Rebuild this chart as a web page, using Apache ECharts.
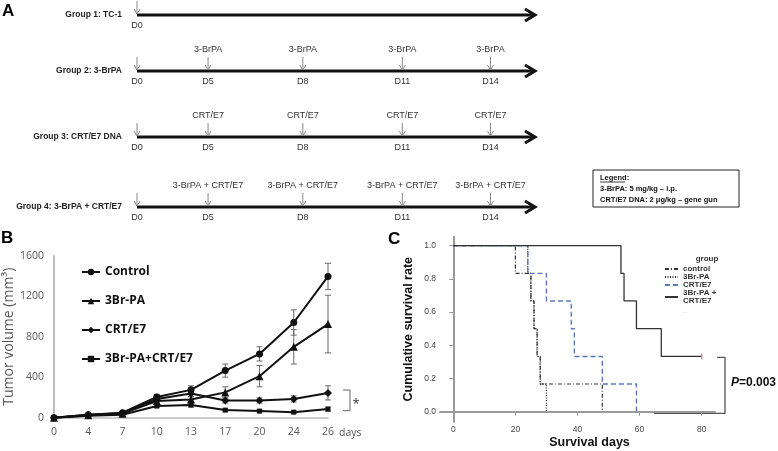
<!DOCTYPE html>
<html><head><meta charset="utf-8">
<script src="https://cdn.jsdelivr.net/npm/echarts@6/dist/echarts.min.js"></script>
<style>html,body{margin:0;padding:0;background:#fff}#c{width:778px;height:451px}</style>
</head><body><div id="c"></div>
<script>
// ---------- Panel A: treatment schedule ----------
const groupNames = ['Group 1: TC-1', 'Group 2: 3-BrPA', 'Group 3: CRT/E7 DNA', 'Group 4: 3-BrPA + CRT/E7'];
const doseDays = ['D0', 'D5', 'D8', 'D11', 'D14'];
const dosePos = [0, 0.75, 1.75, 2.8, 3.73];      // schematic positions on the timeline
const timelineEnd = 4.2;
const groupDoseCount = [1, 5, 5, 5];
const treatmentLabels = ['', '3-BrPA', 'CRT/E7', '3-BrPA + CRT/E7'];
const legendBoxLines = ['Legend:', '3-BrPA: 5 mg/kg \u2013 i.p.', 'CRT/E7 DNA: 2 \u03bcg/kg \u2013 gene gun'];

// ---------- Panel B: tumor volume ----------
const daysB = ['0', '4', '7', '10', '13', '17', '20', '24', '26'];
const bNames = ['Control', '3Br-PA', 'CRT/E7', '3Br-PA+CRT/E7'];
const controlVol = [0, 30, 50, 205, 275, 465, 630, 940, 1395];
const controlErr = [0, 8, 10, 25, 40, 65, 70, 125, 130];
const brpaVol = [0, 25, 40, 165, 180, 250, 410, 700, 925];
const brpaErr = [0, 8, 10, 20, 30, 55, 105, 170, 285];
const crtVol = [0, 30, 45, 185, 240, 170, 170, 185, 245];
const crtErr = [0, 8, 10, 25, 35, 25, 25, 30, 70];
const comboVol = [0, 20, 30, 115, 125, 75, 65, 55, 85];
const comboErr = [0, 5, 8, 15, 20, 10, 10, 10, 20];
const yTicksB = [0, 400, 800, 1200, 1600];

// ---------- Panel C: survival ----------
const cNames = ['control', '3Br-PA', 'CRT/E7', '3Br-PA +\nCRT/E7'];
const controlSurv = [[0, 1], [20, 0.833], [25, 0.667], [26, 0.5], [27, 0.333], [28, 0.167], [48, 0]];
const brpaSurv = [[0, 1], [24, 0.833], [25, 0.667], [26, 0.5], [27, 0.333], [28, 0.167], [30, 0]];
const crtSurv = [[0, 1], [24, 0.833], [30, 0.667], [38, 0.5], [39, 0.333], [48, 0.167], [59, 0]];
const comboSurv = [[0, 1], [54, 0.833], [55, 0.667], [59, 0.5], [67, 0.333], [80, 0.333]];
const comboCensored = [[80, 0.333]];
const xTicksC = [0, 20, 40, 60, 80];
const yTicksC = [0, 0.2, 0.4, 0.6, 0.8, 1.0];
const pValueItalic = 'P';
const pValueRest = '=0.003';

// ================= build =================
const chart = echarts.init(document.getElementById('c'), null, {renderer: 'canvas'});
const AF = 'Liberation Sans, Arial, sans-serif';
const BF = 'Open Sans, sans-serif';
const lineY = [15, 71, 137, 207];

const grids = [], xAxes = [], yAxes = [], series = [];

function renderTimeline(params, api) {
  const p0 = api.coord([api.value(0), 0]);
  const p1 = api.coord([api.value(1), 0]);
  return {type: 'group', children: [
    {type: 'line', shape: {x1: p0[0], y1: p0[1], x2: p1[0] - 1, y2: p1[1]}, style: {stroke: '#111', lineWidth: 3}},
    {type: 'polyline', shape: {points: [[p1[0] - 10, p1[1] - 6], [p1[0], p1[1]], [p1[0] - 10, p1[1] + 6]]},
      style: {stroke: '#111', lineWidth: 3, fill: null}}
  ]};
}
function makeDoseRender(k) {
  return function (params, api) {
    const i = params.dataIndex;
    const top = api.coord([api.value(0), 1]);
    const bot = api.coord([api.value(0), 0]);
    const ch = [
      {type: 'line', shape: {x1: top[0], y1: top[1], x2: bot[0], y2: bot[1] - 1}, style: {stroke: '#8a8a8a', lineWidth: 1}},
      {type: 'polyline', shape: {points: [[bot[0] - 3, bot[1] - 6], [bot[0], bot[1] - 1], [bot[0] + 3, bot[1] - 6]]},
        style: {stroke: '#8a8a8a', lineWidth: 1, fill: null}},
      {type: 'text', x: bot[0], y: bot[1] + 11, style: {text: doseDays[i], fill: '#333', fontSize: 9, fontFamily: AF, align: 'center', verticalAlign: 'middle'}}
    ];
    if (i > 0 && treatmentLabels[k]) {
      ch.push({type: 'text', x: top[0], y: top[1] - 7, style: {text: treatmentLabels[k], fill: '#333', fontSize: 9, fontFamily: AF, align: 'center', verticalAlign: 'middle'}});
    }
    return {type: 'group', children: ch};
  };
}

groupNames.forEach((g, k) => {
  grids.push({left: 137, right: 243, top: lineY[k] - 14, height: 14, containLabel: false});
  xAxes.push({type: 'value', gridIndex: k, min: 0, max: timelineEnd, show: false});
  yAxes.push({type: 'value', gridIndex: k, min: 0, max: 1, interval: 1,
    axisLine: {show: false}, axisTick: {show: false}, splitLine: {show: false},
    axisLabel: {margin: 15, fontSize: 8.5, fontWeight: 'bold', color: '#222', fontFamily: AF,
      formatter: v => (v === 0 ? g : '')}});
  series.push({type: 'custom', xAxisIndex: k, yAxisIndex: k, renderItem: renderTimeline,
    data: [[0, timelineEnd]], silent: true, clip: false});
  series.push({type: 'custom', xAxisIndex: k, yAxisIndex: k, renderItem: makeDoseRender(k),
    data: dosePos.slice(0, groupDoseCount[k]).map(p => [p, 1]), silent: true, clip: false, z: 3});
});

// Panel B grid index 4
grids.push({left: 54, right: 450, top: 255.7, bottom: 33.3});
xAxes.push({type: 'category', gridIndex: 4, data: daysB, boundaryGap: false,
  axisLine: {lineStyle: {color: '#bdbdbd', width: 1.5}}, axisTick: {show: false},
  axisLabel: {color: '#595959', fontSize: 10.5, fontFamily: BF, margin: 9}});
yAxes.push({type: 'value', gridIndex: 4, min: yTicksB[0], max: yTicksB[yTicksB.length - 1], interval: 400,
  name: 'Tumor volume (mm\u00b3)', nameLocation: 'middle', nameGap: 38,
  nameTextStyle: {color: '#595959', fontSize: 14, fontFamily: BF},
  axisLine: {show: true, lineStyle: {color: '#a6a6a6', width: 1.5}}, axisTick: {show: false}, splitLine: {show: false},
  axisLabel: {color: '#595959', fontSize: 10.5, fontFamily: BF, margin: 10, formatter: v => String(v)}});

function renderErr(params, api) {
  const x = api.value(0), m = api.value(1), e = api.value(2);
  if (!e) return null;
  const hi = api.coord([x, m + e]), lo = api.coord([x, m - e]);
  const w = 3, st = {stroke: '#6b6b6b', lineWidth: 1};
  return {type: 'group', children: [
    {type: 'line', shape: {x1: hi[0], y1: hi[1], x2: lo[0], y2: lo[1]}, style: st},
    {type: 'line', shape: {x1: hi[0] - w, y1: hi[1], x2: hi[0] + w, y2: hi[1]}, style: st},
    {type: 'line', shape: {x1: lo[0] - w, y1: lo[1], x2: lo[0] + w, y2: lo[1]}, style: st}
  ]};
}
const bSets = [
  [controlVol, controlErr, 'circle', 7],
  [brpaVol, brpaErr, 'triangle', 8],
  [crtVol, crtErr, 'diamond', 8],
  [comboVol, comboErr, 'rect', 5]
];
bSets.forEach((s, i) => {
  series.push({type: 'custom', xAxisIndex: 4, yAxisIndex: 4, renderItem: renderErr,
    encode: {x: 0, y: 1}, data: s[0].map((v, j) => [j, v, s[1][j]]), silent: true, z: 1});
});
bSets.forEach((s, i) => {
  series.push({type: 'line', name: bNames[i], xAxisIndex: 4, yAxisIndex: 4, data: s[0],
    symbol: s[2], symbolSize: s[3], showSymbol: true,
    lineStyle: {color: '#111', width: 2}, itemStyle: {color: '#111'}, z: 3});
});

// Panel C grid index 5
grids.push({left: 440, right: 63, top: 236.7, bottom: 29.3});
xAxes.push({type: 'value', gridIndex: 5, min: -4.28, max: 84.3,
  name: 'Survival days', nameLocation: 'middle', nameGap: 14,
  nameTextStyle: {color: '#111', fontSize: 12.5, fontWeight: 'bold', fontFamily: AF, padding: [0, 0, 0, 24]},
  axisLine: {lineStyle: {color: '#9a9a9a', width: 2}},
  axisTick: {show: true, length: 4, customValues: xTicksC, lineStyle: {color: '#9a9a9a'}},
  axisLabel: {customValues: xTicksC, color: '#444', fontSize: 8.5, fontFamily: AF, margin: 3},
  splitLine: {show: false}});
yAxes.push({type: 'value', gridIndex: 5, min: -0.06, max: 1.054,
  name: 'Cumulative survival rate', nameLocation: 'middle', nameGap: 25,
  nameTextStyle: {color: '#111', fontSize: 12.5, fontWeight: 'bold', fontFamily: AF},
  axisLine: {show: true, lineStyle: {color: '#9a9a9a', width: 2}},
  axisTick: {show: true, length: 4, customValues: yTicksC, lineStyle: {color: '#9a9a9a'}},
  axisLabel: {customValues: yTicksC, color: '#444', fontSize: 8.5, fontFamily: AF, margin: 4,
    formatter: v => v.toFixed(1)},
  splitLine: {show: false}});

const cSets = [
  [controlSurv, '#333', [4, 2, 1, 2], 1.2],
  [brpaSurv, '#333', [1, 1.5], 1.3],
  [crtSurv, '#5a78c0', [5, 3], 1.4],
  [comboSurv, '#333', 'solid', 1.3]
];
cSets.forEach((s, i) => {
  series.push({type: 'line', name: 'c:' + cNames[i], xAxisIndex: 5, yAxisIndex: 5, step: 'end',
    data: s[0], symbol: 'none', showSymbol: false,
    lineStyle: {color: s[1], type: s[2], width: s[3]}, itemStyle: {color: s[1]}, z: 2 + i});
});
series.push({type: 'scatter', xAxisIndex: 5, yAxisIndex: 5, data: comboCensored,
  symbol: 'rect', symbolSize: [1.5, 6], itemStyle: {color: '#c96b8e'}, silent: true, z: 7});

const option = {
  animation: false,
  backgroundColor: '#fff',
  grid: grids, xAxis: xAxes, yAxis: yAxes, series: series,
  legend: [
    {data: bNames, orient: 'vertical', left: 81, top: 265, padding: 0, itemGap: 15,
      itemWidth: 18, itemHeight: 8, selectedMode: false,
      textStyle: {fontFamily: BF, fontSize: 12, fontWeight: 'bold', color: '#111', lineHeight: 14}},
    {data: cNames.map(n => 'c:' + n), orient: 'vertical', left: 664, top: 265, padding: 0, itemGap: 0,
      itemWidth: 13, itemHeight: 6, selectedMode: false,
      itemStyle: {opacity: 0},
      formatter: n => n.slice(2),
      textStyle: {fontFamily: AF, fontSize: 8, fontWeight: 'bold', color: '#333', lineHeight: 8}}
  ],
  graphic: [
    {type: 'text', left: 2, top: 3, style: {text: 'A', font: 'bold 17px ' + AF, fill: '#000'}},
    {type: 'text', left: 1, top: 230, style: {text: 'B', font: 'bold 17px ' + AF, fill: '#000'}},
    {type: 'text', left: 388, top: 231, style: {text: 'C', font: 'bold 17px ' + AF, fill: '#000'}},
    // legend box (panel A)
    {type: 'rect', shape: {x: 593, y: 170, width: 146, height: 37}, style: {fill: '#fff', stroke: '#222', lineWidth: 1}},
    {type: 'text', x: 600, y: 178, style: {text: legendBoxLines[0], font: 'bold 7.5px ' + AF, fill: '#111', verticalAlign: 'middle'}},
    {type: 'line', shape: {x1: 600, y1: 182, x2: 625, y2: 182}, style: {stroke: '#111', lineWidth: 0.8}},
    {type: 'text', x: 600, y: 189, style: {text: legendBoxLines[1], font: 'bold 7.5px ' + AF, fill: '#111', verticalAlign: 'middle'}},
    {type: 'text', x: 600, y: 200, style: {text: legendBoxLines[2], font: 'bold 7.5px ' + AF, fill: '#111', verticalAlign: 'middle'}},
    // panel B extras
    {type: 'text', x: 339, y: 433, style: {text: 'days', font: '10.5px ' + BF, fill: '#595959', verticalAlign: 'middle'}},
    {type: 'polyline', shape: {points: [[343, 390], [350, 390], [350, 410.7], [343, 410.7]]}, style: {stroke: '#666', lineWidth: 1, fill: null}},
    {type: 'text', x: 356, y: 404, style: {text: '*', font: '13px ' + BF, fill: '#333', align: 'center', verticalAlign: 'middle'}},
    // panel C extras
    {type: 'text', x: 707, y: 259, style: {text: 'group', font: 'bold 8px ' + AF, fill: '#333', align: 'center', verticalAlign: 'middle'}},
    {type: 'text', x: 685, y: 311, style: {text: '...', font: '6px ' + AF, fill: '#aaa', align: 'center', verticalAlign: 'middle'}},
    {type: 'polyline', shape: {points: [[717, 357.3], [725, 357.3], [725, 413.3], [654, 413.3]]}, style: {stroke: '#555', lineWidth: 1.3, fill: null}},
    {type: 'text', x: 731, y: 383, style: {
      text: '{i|' + pValueItalic + '}{r|' + pValueRest + '}', verticalAlign: 'middle',
      rich: {i: {fontStyle: 'italic', fontWeight: 'bold', fontSize: 12, fontFamily: AF, fill: '#111'},
             r: {fontWeight: 'bold', fontSize: 12, fontFamily: AF, fill: '#111'}}}}
  ]
};
chart.setOption(option);
</script>
</body></html>
